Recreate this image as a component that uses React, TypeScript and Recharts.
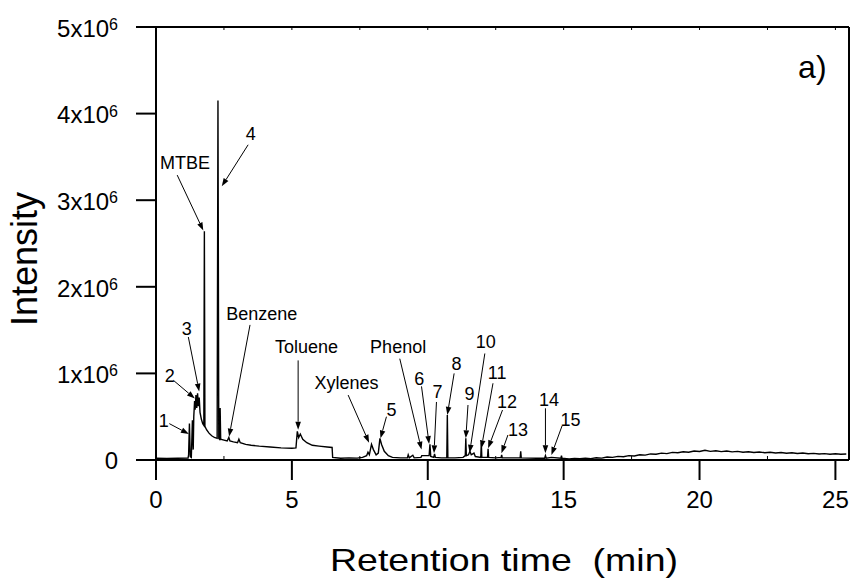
import React from 'react';
import { LineChart, Line, XAxis, YAxis, ReferenceLine, ReferenceDot } from 'recharts';

// Retention time (min)
const retentionTime = [
  0, 0.4, 0.8, 1.18, 1.2, 1.23, 1.26, 1.3, 1.34, 1.37,
  1.39, 1.42, 1.44, 1.47, 1.5, 1.53, 1.56, 1.59, 1.62, 1.67,
  1.72, 1.76, 1.78, 1.8, 1.86, 1.95, 2.05, 2.15, 2.25, 2.28,
  2.31, 2.34, 2.36, 2.38, 2.5, 2.62, 2.68, 2.72, 2.85, 3.0,
  3.05, 3.1, 3.3, 3.5, 3.8, 4.2, 4.6, 5.0, 5.15, 5.2,
  5.25, 5.31, 5.4, 5.55, 5.75, 6.0, 6.3, 6.48, 6.5, 6.8,
  7.1, 7.4, 7.6, 7.75, 7.8, 7.85, 7.93, 8.0, 8.1, 8.18,
  8.24, 8.3, 8.4, 8.55, 8.7, 9.0, 9.25, 9.28, 9.32, 9.45,
  9.5, 9.75, 9.78, 10.05, 10.08, 10.11, 10.22, 10.25, 10.28, 10.5,
  10.7, 10.72, 10.74, 11.0, 11.3, 11.38, 11.4, 11.42, 11.5, 11.55,
  11.6, 11.7, 11.75, 11.95, 11.97, 11.99, 12.2, 12.22, 12.24, 12.5,
  12.7, 12.72, 12.74, 13.0, 13.4, 13.42, 13.44, 14.0, 14.3, 14.33,
  14.36, 14.55, 14.9, 14.92, 14.94, 15.2, 15.4, 15.6, 15.8, 16.0,
  16.2, 16.4, 16.6, 16.8, 17.0, 17.2, 17.4, 17.6, 17.8, 18.0,
  18.2, 18.4, 18.6, 18.8, 19.0, 19.2, 19.4, 19.6, 19.8, 20.0,
  20.2, 20.4, 20.6, 20.8, 21.0, 21.2, 21.4, 21.6, 21.8, 22.0,
  22.2, 22.4, 22.6, 22.8, 23.0, 23.2, 23.4, 23.6, 23.8, 24.0,
  24.2, 24.4, 24.6, 24.8, 25.0, 25.2, 25.4,
];

// Intensity (counts)
const intensity = [
  20000, 18000, 20000, 22000, 60000, 420000, 40000, 30000, 460000, 120000,
  500000, 680000, 580000, 750000, 600000, 770000, 620000, 720000, 550000, 470000,
  420000, 400000, 2640000, 390000, 350000, 310000, 280000, 260000, 250000, 4150000,
  250000, 240000, 600000, 240000, 230000, 220000, 260000, 220000, 210000, 200000,
  240000, 200000, 180000, 170000, 160000, 150000, 140000, 135000, 140000, 330000,
  260000, 300000, 240000, 200000, 170000, 160000, 150000, 145000, 30000, 20000,
  25000, 22000, 30000, 50000, 90000, 60000, 180000, 120000, 60000, 80000,
  250000, 180000, 100000, 50000, 30000, 25000, 25000, 60000, 25000, 55000,
  25000, 30000, 50000, 50000, 180000, 40000, 30000, 70000, 30000, 25000,
  25000, 520000, 25000, 25000, 30000, 50000, 250000, 50000, 60000, 100000,
  60000, 80000, 40000, 30000, 200000, 30000, 30000, 130000, 30000, 25000,
  30000, 60000, 25000, 25000, 25000, 100000, 25000, 20000, 20000, 50000,
  20000, 30000, 20000, 50000, 20000, 12000, 18000, 14000, 20000, 16000,
  26000, 22000, 34000, 30000, 42000, 38000, 50000, 47000, 60000, 56000,
  70000, 66000, 79000, 74000, 88000, 83000, 95000, 90000, 104000, 98000,
  112000, 100000, 107000, 97000, 104000, 94000, 100000, 90000, 96000, 87000,
  93000, 84000, 90000, 81000, 87000, 78000, 83000, 75000, 80000, 72000,
  77000, 69000, 74000, 67000, 72000, 66000, 70000,
];

const xTicks = [0, 2.5, 5, 7.5, 10, 12.5, 15, 17.5, 20, 22.5, 25];
const yTicks = [0, 1000000, 2000000, 3000000, 4000000, 5000000];
const X_MAX = 25.5;
const Y_MAX = 5000000;

const chartData = retentionTime.map((t, i) => ({ time: t, intensity: intensity[i] }));

// Peak annotations: label centre, arrow start, arrow tip (data coordinates)
const annotations = [
  { text: '1', lx: 0.29, ly: 460000, x1: 0.49, y1: 420000, x2: 1.21, y2: 300000 },
  { text: '2', lx: 0.51, ly: 980000, x1: 0.64, y1: 920000, x2: 1.43, y2: 710000 },
  { text: '3', lx: 1.13, ly: 1520000, x1: 1.19, y1: 1420000, x2: 1.59, y2: 790000 },
  { text: 'MTBE', lx: 1.07, ly: 3430000, x1: 0.78, y1: 3290000, x2: 1.74, y2: 2650000 },
  { text: '4', lx: 3.49, ly: 3770000, x1: 3.39, y1: 3640000, x2: 2.42, y2: 3160000 },
  { text: 'Benzene', lx: 3.89, ly: 1690000, x1: 3.46, y1: 1560000, x2: 2.69, y2: 270000 },
  { text: 'Toluene', lx: 5.54, ly: 1310000, x1: 5.23, y1: 1150000, x2: 5.23, y2: 350000 },
  { text: 'Xylenes', lx: 7.01, ly: 900000, x1: 7.07, y1: 750000, x2: 7.84, y2: 200000 },
  { text: '5', lx: 8.67, ly: 585000, x1: 8.48, y1: 500000, x2: 8.26, y2: 250000 },
  { text: 'Phenol', lx: 8.91, ly: 1310000, x1: 8.97, y1: 1170000, x2: 9.77, y2: 120000 },
  { text: '6', lx: 9.69, ly: 940000, x1: 9.77, y1: 850000, x2: 10.05, y2: 185000 },
  { text: '7', lx: 10.36, ly: 790000, x1: 10.32, y1: 670000, x2: 10.23, y2: 77000 },
  { text: '8', lx: 11.06, ly: 1120000, x1: 10.97, y1: 1000000, x2: 10.72, y2: 520000 },
  { text: '9', lx: 11.54, ly: 770000, x1: 11.48, y1: 635000, x2: 11.4, y2: 250000 },
  { text: '10', lx: 12.13, ly: 1370000, x1: 12.1, y1: 1230000, x2: 11.54, y2: 84000 },
  { text: '11', lx: 12.55, ly: 1010000, x1: 12.4, y1: 886000, x2: 11.97, y2: 135000 },
  { text: '12', lx: 12.92, ly: 673000, x1: 12.75, y1: 577000, x2: 12.22, y2: 135000 },
  { text: '13', lx: 13.32, ly: 355000, x1: 12.95, y1: 289000, x2: 12.71, y2: 77000 },
  { text: '14', lx: 14.46, ly: 693000, x1: 14.33, y1: 597000, x2: 14.33, y2: 77000 },
  { text: '15', lx: 15.25, ly: 470000, x1: 14.94, y1: 393000, x2: 14.55, y2: 58000 },
];

const FONT = '"Liberation Sans", Arial, Helvetica, sans-serif';

const XTick = (props: any) => {
  const { x, y, payload } = props;
  const v = payload.value;
  if (v % 5 !== 0) {
    return <line x1={x} x2={x} y1={y} y2={y - 4} stroke="#000" strokeWidth={1} />;
  }
  return (
    <g>
      <line x1={x} x2={x} y1={y} y2={y + 20} stroke="#000" strokeWidth={2} />
      <text x={x} y={y + 48} textAnchor="middle" fontSize={24} fontFamily={FONT} fill="#000">
        {v}
      </text>
    </g>
  );
};

const YTick = (props: any) => {
  const { x, y, payload } = props;
  const m = Math.round(payload.value / 1000000);
  return (
    <g>
      <line x1={x - 20} x2={x} y1={y} y2={y} stroke="#000" strokeWidth={2} />
      {m === 0 ? (
        <text x={x - 38} y={y + 8.5} textAnchor="end" fontSize={24} fontFamily={FONT} fill="#000">0</text>
      ) : (
        <text x={x - 38} y={y + 9.7} textAnchor="end" fontSize={24} fontFamily={FONT} fill="#000">
          <tspan>{m}x10</tspan>
          <tspan fontSize={16} dy={-6.7}>6</tspan>
        </text>
      )}
    </g>
  );
};

const arrowShape = (p: any) => {
  const x1 = Number(p.x1), y1 = Number(p.y1), x2 = Number(p.x2), y2 = Number(p.y2);
  const dx = x2 - x1, dy = y2 - y1;
  const len = Math.hypot(dx, dy) || 1;
  const ux = dx / len, uy = dy / len;
  const hl = 8, hw = 2.8;
  const bx = x2 - ux * hl, by = y2 - uy * hl;
  const pts = `${x2},${y2} ${bx - uy * hw},${by + ux * hw} ${bx + uy * hw},${by - ux * hw}`;
  return (
    <g>
      <line x1={x1} y1={y1} x2={bx} y2={by} stroke="#000" strokeWidth={1} />
      <polygon points={pts} fill="#000" />
    </g>
  );
};

const frameShape = (p: any) => (
  <line x1={p.x1} y1={p.y1} x2={p.x2} y2={p.y2} stroke="#000" strokeWidth={2} />
);

const topTickShape = (p: any) => (
  <line x1={p.x1} y1={p.y1} x2={p.x1} y2={Number(p.y1) + 3} stroke="#000" strokeWidth={1} />
);

const labelShape = (text: string, size: number, shift: number) => (p: any) => (
  <text x={p.cx} y={p.cy + shift} textAnchor="middle" fontSize={size} fontFamily={FONT} fill="#000">
    {text}
  </text>
);

const XTitle = (props: any) => {
  const vb = props.viewBox;
  return (
    <text
      x={vb.x + vb.width / 2 + 1.5}
      y={vb.y + 111}
      textAnchor="middle"
      fontSize={32}
      fontFamily={FONT}
      fill="#000"
      textLength={348}
      lengthAdjust="spacingAndGlyphs"
      style={{ whiteSpace: 'pre' }}
    >
      {'Retention time  (min)'}
    </text>
  );
};

const YTitle = (props: any) => {
  const vb = props.viewBox;
  const cx = vb.x + 37;
  const cy = vb.y + vb.height / 2 + 15.5;
  return (
    <text
      x={cx}
      y={cy}
      transform={`rotate(-90, ${cx}, ${cy})`}
      textAnchor="middle"
      fontSize={36}
      fontFamily={FONT}
      fill="#000"
    >
      Intensity
    </text>
  );
};

export default function App() {
  return (
    <div style={{ position: 'fixed', left: 0, top: 0, width: 853, height: 582, background: '#fff' }}>
      <LineChart
        width={853}
        height={582}
        data={chartData}
        margin={{ top: 27, right: 4, left: 0, bottom: 0 }}
      >
        <XAxis
          dataKey="time"
          type="number"
          domain={[0, X_MAX]}
          ticks={xTicks}
          interval={0}
          height={122}
          tickSize={0}
          tickMargin={0}
          tick={<XTick />}
          axisLine={{ stroke: '#000', strokeWidth: 2 }}
          tickLine={false}
          label={{ content: <XTitle /> }}
        />
        <YAxis
          type="number"
          domain={[0, Y_MAX]}
          ticks={yTicks}
          interval={0}
          width={156}
          tickSize={0}
          tickMargin={0}
          tick={<YTick />}
          tickLine={false}
          axisLine={{ stroke: '#000', strokeWidth: 2 }}
          label={{ content: <YTitle /> }}
        />
        <Line
          dataKey="intensity"
          type="linear"
          stroke="#000"
          strokeWidth={1.4}
          dot={false}
          activeDot={false}
          isAnimationActive={false}
        />
        <ReferenceLine
          segment={[{ x: 0, y: Y_MAX }, { x: X_MAX, y: Y_MAX }]}
          ifOverflow="visible"
          shape={frameShape}
        />
        <ReferenceLine
          segment={[{ x: X_MAX, y: 0 }, { x: X_MAX, y: Y_MAX }]}
          ifOverflow="visible"
          shape={frameShape}
        />
        {xTicks.map((t) => (
          <ReferenceLine
            key={'top-' + t}
            segment={[{ x: t, y: Y_MAX }, { x: t, y: Y_MAX }]}
            ifOverflow="visible"
            shape={topTickShape}
          />
        ))}
        {annotations.map((a) => (
          <ReferenceLine
            key={'arrow-' + a.text}
            segment={[{ x: a.x1, y: a.y1 }, { x: a.x2, y: a.y2 }]}
            shape={arrowShape}
            ifOverflow="visible"
          />
        ))}
        {annotations.map((a) => (
          <ReferenceDot
            key={'label-' + a.text}
            x={a.lx}
            y={a.ly}
            r={0}
            ifOverflow="visible"
            shape={labelShape(a.text, 18, 6.5)}
          />
        ))}
        <ReferenceDot x={24.15} y={4410000} r={0} ifOverflow="visible" shape={labelShape('a)', 32, 0)} />
      </LineChart>
    </div>
  );
}
